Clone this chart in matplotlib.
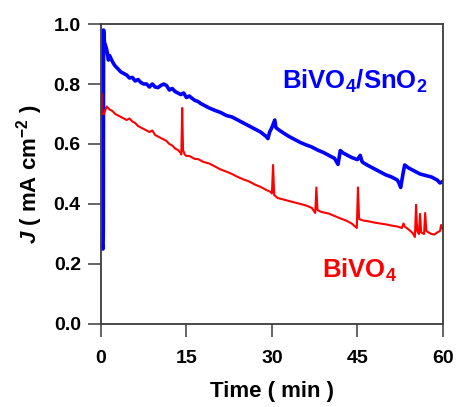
import numpy as np
import matplotlib
matplotlib.use("Agg")
import matplotlib.pyplot as plt

# -------------------------
# DATOS
# -------------------------
t_snO2 = [0.30, 0.35, 0.40, 0.45, 0.6, 1.0, 1.3, 1.5, 2.0, 2.3, 2.5, 3.0, 3.5, 4.0, 4.5,
          5.0, 5.5, 6.0, 6.5, 7.0, 7.5, 8.0, 8.5, 9.0, 9.5, 10.0, 10.5, 11.0,
          11.5, 12.0, 12.5, 13.0, 13.5, 14.0, 14.5, 15.0, 15.5, 16.0, 16.5,
          17.0, 17.5, 18.0, 19.0, 20.0, 21.0, 22.0, 23.0, 24.0, 25.0, 26.0,
          27.0, 28.0, 29.0, 29.3, 29.6, 30.0, 30.5, 30.7, 31.0, 32.0, 33.0,
          34.0, 35.0, 36.0, 37.0, 38.0, 39.0, 40.0, 41.0, 41.6, 42.0, 42.5,
          43.0, 44.0, 45.0, 45.5, 45.8, 46.0, 47.0, 48.0, 49.0, 50.0, 51.0,
          52.0, 52.3, 52.6, 53.0, 53.3, 54.0, 55.0, 56.0, 57.0, 58.0, 59.0,
          59.5, 60.0]
j_snO2 = [0.26, 0.25, 0.30, 0.98, 0.94, 0.915, 0.88, 0.895, 0.875, 0.865, 0.86, 0.85,
          0.84, 0.835, 0.83, 0.82, 0.822, 0.81, 0.815, 0.805, 0.80, 0.80, 0.79,
          0.80, 0.79, 0.788, 0.795, 0.80, 0.795, 0.78, 0.785, 0.775, 0.77,
          0.765, 0.77, 0.755, 0.76, 0.752, 0.745, 0.742, 0.735, 0.73, 0.72,
          0.712, 0.705, 0.695, 0.69, 0.68, 0.67, 0.66, 0.65, 0.64, 0.625,
          0.618, 0.64, 0.655, 0.68, 0.655, 0.65, 0.637, 0.625, 0.615, 0.605,
          0.597, 0.59, 0.58, 0.572, 0.562, 0.552, 0.532, 0.578, 0.57, 0.565,
          0.555, 0.548, 0.562, 0.542, 0.538, 0.527, 0.517, 0.507, 0.497,
          0.49, 0.48, 0.47, 0.455, 0.50, 0.53, 0.52, 0.51, 0.50, 0.495, 0.49,
          0.48, 0.47, 0.475]

t_bivo4 = [0.0, 0.05, 0.1, 0.5, 1.0, 1.5, 2.0, 2.5, 3.0, 3.5, 4.0, 4.5, 5.0, 5.5,
           6.0, 6.5, 7.0, 7.5, 8.0, 8.5, 9.0, 9.5, 10.0, 10.5, 11.0, 11.5,
           12.0, 12.5, 13.0, 13.5, 14.0, 14.1, 14.25, 14.4, 14.7, 15.0, 15.5,
           16.0, 16.5, 17.0, 17.5, 18.0, 19.0, 20.0, 21.0, 22.0, 23.0, 24.0,
           25.0, 26.0, 27.0, 28.0, 29.0, 29.8, 30.0, 30.2, 30.4, 31.0, 32.0,
           33.0, 34.0, 35.0, 36.0, 37.0, 37.6, 37.8, 38.0, 38.5, 39.0, 40.0,
           41.0, 42.0, 43.0, 44.0, 44.9, 45.1, 45.3, 46.0, 47.0, 48.0, 49.0,
           50.0, 51.0, 52.0, 52.8, 53.1, 53.3, 54.0, 54.7, 55.1, 55.3, 55.5,
           55.8, 56.0, 56.2, 56.7, 56.9, 57.1, 57.5, 58.0, 58.5, 59.0, 59.5,
           59.7, 60.0]
j_bivo4 = [0.68, 0.77, 0.70, 0.70, 0.725, 0.715, 0.71, 0.70, 0.695, 0.69, 0.685,
           0.68, 0.685, 0.675, 0.67, 0.66, 0.655, 0.65, 0.645, 0.64, 0.645,
           0.63, 0.625, 0.62, 0.615, 0.61, 0.60, 0.595, 0.585, 0.58, 0.57,
           0.565, 0.72, 0.58, 0.565, 0.56, 0.56, 0.555, 0.55, 0.55, 0.545,
           0.54, 0.535, 0.525, 0.515, 0.508, 0.50, 0.49, 0.482, 0.475, 0.465,
           0.457, 0.447, 0.44, 0.435, 0.53, 0.43, 0.42, 0.415, 0.41, 0.405,
           0.40, 0.395, 0.387, 0.37, 0.455, 0.38, 0.375, 0.372, 0.368, 0.36,
           0.352, 0.345, 0.335, 0.32, 0.455, 0.35, 0.345, 0.342, 0.338, 0.335,
           0.332, 0.328, 0.325, 0.32, 0.335, 0.325, 0.315, 0.303, 0.29, 0.397,
           0.31, 0.30, 0.367, 0.305, 0.30, 0.37, 0.31, 0.305, 0.30, 0.298,
           0.305, 0.31, 0.33, 0.315]

# -------------------------
# ESTILO
# -------------------------
plt.rcParams['font.family'] = ['Liberation Sans', 'DejaVu Sans']
plt.rcParams['font.weight'] = 'bold'
plt.rcParams['mathtext.fontset'] = 'custom'
plt.rcParams['mathtext.rm'] = 'Liberation Sans:bold'
plt.rcParams['mathtext.bf'] = 'Liberation Sans:bold'
plt.rcParams['mathtext.it'] = 'Liberation Sans:italic:bold'
plt.rcParams['mathtext.default'] = 'rm'

eje = '#3c3c3c'

fig = plt.figure(figsize=(4.57, 4.07), dpi=100)
ax = fig.add_axes([0.221, 0.204, 0.748, 0.737])

ax.plot(t_snO2, j_snO2, color='#0000ff', linewidth=2.6)
ax.plot(t_bivo4, j_bivo4, color='#ff0000', linewidth=1.5)

ax.set_xlim(0, 60)
ax.set_ylim(0, 1.0)
ax.set_xticks([0, 15, 30, 45, 60])
ax.set_yticks([0.0, 0.2, 0.4, 0.6, 0.8, 1.0])
ax.set_yticklabels(['0.0', '0.2', '0.4', '0.6', '0.8', '1.0'])

for lado in ['left', 'bottom', 'top', 'right']:
    ax.spines[lado].set_color(eje)
    ax.spines[lado].set_linewidth(1.3)

ax.tick_params(axis='both', direction='out', length=9.5, width=1.1,
               color=eje, labelsize=14)
ax.tick_params(axis='x', pad=9)
ax.tick_params(axis='y', pad=5)

ax.set_xlabel('Time ( min )', fontsize=16, fontweight='bold', labelpad=10)
ax.set_ylabel(r'$\it{J}$ ( mA cm$^{-2}$ )', fontsize=16, fontweight='bold', labelpad=6)

ax.text(44.6, 0.81, r'BiVO$_4$/SnO$_2$', color='#0000ff', fontsize=18.5,
        fontweight='bold', ha='center', va='center')
ax.text(45.4, 0.18, r'BiVO$_4$', color='#ff0000', fontsize=18.5,
        fontweight='bold', ha='center', va='center')

fig.savefig('out.png', dpi=100)
